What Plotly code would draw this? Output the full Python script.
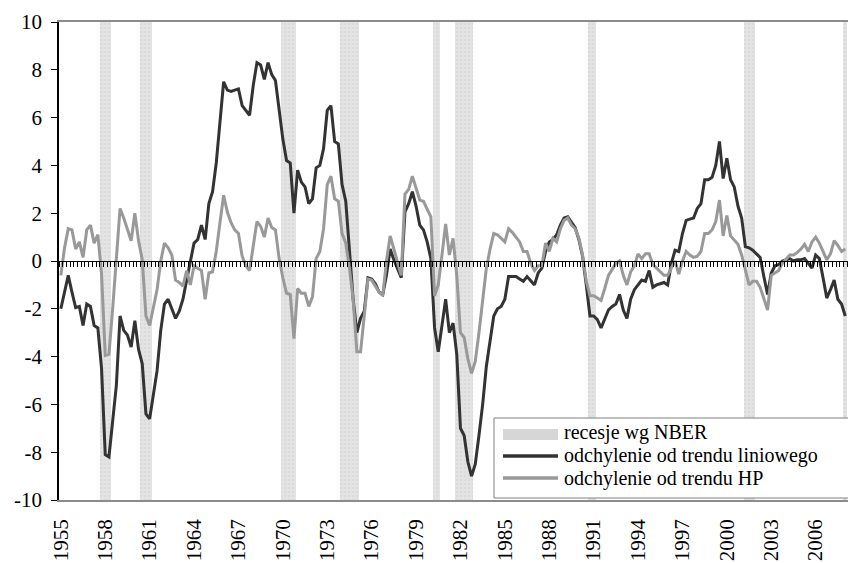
import plotly.graph_objects as go

# ---- data (quarterly, 1955Q1 .. 2008Q1) ----
quarters = [f"{y}Q{q}" for y in range(1955, 2009) for q in (1, 2, 3, 4)][:213]

linear_dev = [
    -2.0, -1.3, -0.6, -1.3, -1.95, -1.9, -2.7, -1.8, -1.9, -2.7,
    -2.8, -4.5, -8.1, -8.2, -6.6, -5.2, -2.3, -2.9, -3.1, -3.6,
    -2.5, -3.7, -4.3, -6.4, -6.6, -5.6, -4.6, -2.9, -1.8, -1.6,
    -2.0, -2.4, -2.1, -1.6, -0.8, 0.0, 0.75, 0.9, 1.5, 0.9,
    2.4, 2.9, 4.1, 5.8, 7.5, 7.15, 7.1, 7.15, 7.2, 6.5,
    6.3, 6.1, 7.35, 8.3, 8.2, 7.6, 8.3, 7.8, 7.55, 6.2,
    5.1, 4.2, 4.1, 2.0, 3.8, 3.3, 3.1, 2.4, 2.6, 3.9,
    4.0, 4.7, 6.3, 6.5, 5.0, 4.9, 3.2, 2.5, 0.6, -1.6,
    -3.0, -2.4, -2.1, -0.7, -0.75, -0.95, -1.3, -1.4, -0.6, 0.5,
    0.05, -0.3, -0.7, 2.05, 2.4, 2.9, 2.3, 1.5, 1.3, 0.8,
    0.1, -2.8, -3.8, -2.7, -1.6, -3.0, -2.6, -3.9, -7.0, -7.3,
    -8.4, -9.0, -8.5, -7.3, -6.0, -4.4, -3.25, -2.3, -2.0, -1.9,
    -1.6, -0.65, -0.65, -0.65, -0.75, -0.85, -0.65, -0.85, -1.0, -0.5,
    -0.3, 0.4, 0.8, 0.9, 1.1, 1.5, 1.8, 1.85, 1.65, 1.4,
    0.9, 0.2, -1.0, -2.3, -2.3, -2.45, -2.8, -2.4, -2.05, -1.9,
    -1.8, -1.4, -2.05, -2.4, -1.6, -1.2, -1.0, -0.8, -0.85, -0.4,
    -1.1, -1.0, -0.95, -0.9, -1.0, -0.1, 0.45, 0.4, 1.15, 1.7,
    1.75, 1.8, 2.2, 2.4, 3.4, 3.4, 3.5, 4.0, 5.0, 3.45,
    4.3, 3.4, 3.1, 2.3, 1.8, 0.6, 0.55, 0.45, 0.3, 0.15,
    -0.65, -1.4, -0.5, -0.2, -0.15, 0.0, 0.05, 0.1, 0.0, 0.05,
    0.05, 0.1, -0.1, -0.3, 0.25, 0.1, -0.7, -1.55, -1.2, -0.8,
    -1.6, -1.8, -2.3,
]

hp_dev = [
    -0.6, 0.55, 1.35, 1.3, 0.5, 0.8, 0.15, 1.3, 1.5, 0.75,
    1.1, -0.55, -3.95, -3.9, -2.0, 0.0, 2.2, 1.8, 1.3, 0.85,
    2.0, 0.85, 0.05, -2.3, -2.7, -1.9, -1.2, 0.0, 0.75, 0.55,
    0.25, -0.8, -0.9, -1.05, -0.4, -1.0, -0.2, -0.3, -0.4, -1.6,
    -0.5, -0.45, 0.4, 1.6, 2.75, 2.05, 1.6, 1.3, 1.15, 0.2,
    -0.2, -0.4, 0.65, 1.65, 1.45, 1.0, 1.8, 1.4, 1.3, 0.1,
    -0.7, -1.35, -1.4, -3.25, -1.15, -1.35, -1.35, -1.9, -1.5, 0.1,
    0.4, 1.35, 3.2, 3.55, 2.6, 2.5, 1.15, 0.75, -0.3, -1.6,
    -3.8, -3.8, -2.3, -0.75, -0.8, -1.05, -1.3, -1.45, 0.0, 1.05,
    0.5, 0.0, -0.6, 2.8, 3.0, 3.55, 3.0, 2.55, 2.5, 2.2,
    1.85, -1.45, -1.0, 0.25, 1.55, 0.25, 0.95, -0.6, -3.0, -3.2,
    -4.1, -4.7, -4.2, -3.0, -1.7, -0.3, 0.5, 1.15, 1.1, 0.95,
    0.8, 1.35, 1.2, 1.0, 0.8, 0.4, 0.4, -0.1, -0.4, -0.2,
    -0.2, 0.75, 0.4, 0.95, 0.8, 1.35, 1.7, 1.8, 1.5, 1.35,
    0.95, 0.25, -0.85, -1.45, -1.45, -1.55, -1.65, -1.15, -0.6, -0.35,
    -0.1, 0.0, -0.6, -1.0, -0.45, -0.2, 0.3, 0.1, 0.3, 0.3,
    -0.15, -0.3, -0.45, -0.6, -0.6, -0.3, 0.0, -0.55, 0.0, 0.4,
    0.25, 0.15, 0.2, 0.4, 1.15, 1.15, 1.3, 1.65, 2.55, 1.05,
    1.9, 1.05, 0.85, 0.7, 0.25, -0.4, -1.0, -0.85, -0.85, -1.1,
    -1.6, -2.05, -0.6, -0.5, -0.4, -0.1, 0.1, 0.25, 0.25, 0.35,
    0.5, 0.7, 0.4, 0.8, 1.0, 0.75, 0.4, 0.05, 0.3, 0.85,
    0.65, 0.4, 0.5,
]

# NBER recessions (first and last quarter shaded)
recessions = [
    ("1957Q4", "1958Q2"), ("1960Q3", "1961Q1"), ("1970Q1", "1970Q4"),
    ("1974Q1", "1975Q1"), ("1980Q2", "1980Q3"), ("1981Q4", "1982Q4"),
    ("1990Q4", "1991Q1"), ("2001Q2", "2001Q4"), ("2008Q1", "2008Q1"),
]

legend_labels = ["recesje wg NBER", "odchylenie od trendu liniowego",
                 "odchylenie od trendu HP"]
tick_years = list(range(1955, 2007, 3))
y_ticks = list(range(-10, 11, 2))

# ---- build ----
idx = {q: i for i, q in enumerate(quarters)}
xs = list(range(len(quarters)))
rec_x = [(idx[a] + idx[b]) / 2 for a, b in recessions]
rec_w = [idx[b] - idx[a] + 1 for a, b in recessions]

FONT = "Liberation Serif"
FS = 21
xr = [-0.5, 212.74]
DARK, GREY, BARC = "#333333", "#999999", "#dcdcdc"

fig = go.Figure()
fig.add_trace(go.Bar(
    x=rec_x, y=[20] * len(rec_x), base=[-10] * len(rec_x), width=rec_w,
    name=legend_labels[0], showlegend=False,
    marker=dict(color=BARC, line_width=0,
                pattern=dict(shape=".", fgcolor="#d2d2d2", bgcolor="#e3e3e3",
                             size=4, solidity=0.3)),
    hoverinfo="skip",
))
fig.add_trace(go.Scatter(
    x=xs, y=linear_dev, mode="lines", name=legend_labels[1], showlegend=False,
    line=dict(color=DARK, width=3),
))
fig.add_trace(go.Scatter(
    x=xs, y=hp_dev, mode="lines", name=legend_labels[2], showlegend=False,
    line=dict(color=GREY, width=3),
))
# carrier for the zero axis with quarterly ticks
fig.add_trace(go.Scatter(
    x=[0], y=[0], xaxis="x2", mode="markers", marker=dict(opacity=0),
    showlegend=False, hoverinfo="skip",
))

# ---- legend box (drawn in paper coordinates) ----
W, H = 789.0, 478.0  # plot area size in px


def px_x(p):
    return (p - 59) / W


def px_y(p):
    return (500 - p) / H


shapes = [
    dict(type="rect", xref="paper", yref="paper",
         x0=px_x(494), x1=px_x(860), y0=px_y(498), y1=px_y(418),
         fillcolor="white", line=dict(color="#808080", width=1), layer="above"),
    dict(type="rect", xref="paper", yref="paper",
         x0=px_x(503), x1=px_x(558), y0=px_y(440), y1=px_y(429),
         fillcolor="#d6d6d6", line=dict(width=0), layer="above"),
    dict(type="line", xref="paper", yref="paper",
         x0=px_x(503), x1=px_x(558), y0=px_y(456), y1=px_y(456),
         line=dict(color=DARK, width=3.5), layer="above"),
    dict(type="line", xref="paper", yref="paper",
         x0=px_x(503), x1=px_x(558), y0=px_y(478), y1=px_y(478),
         line=dict(color=GREY, width=3.5), layer="above"),
]
annotations = [
    dict(xref="paper", yref="paper", x=px_x(563), y=px_y(yy), text=t,
         xanchor="left", yanchor="middle", showarrow=False, borderpad=0,
         font=dict(family=FONT, size=20, color="black"))
    for t, yy in zip(legend_labels, [432.5, 455.5, 478.5])
]

fig.update_layout(
    width=848, height=563, autosize=False,
    margin=dict(l=59, r=0, t=22, b=63, autoexpand=False),
    paper_bgcolor="white", plot_bgcolor="white",
    barmode="overlay", bargap=0,
    font=dict(family=FONT, size=FS, color="black"),
    showlegend=False,
    shapes=shapes, annotations=annotations,
    xaxis=dict(
        range=xr, tickvals=[idx[f"{y}Q1"] for y in tick_years],
        ticktext=[str(y) for y in tick_years], tickangle=-90,
        showline=True, linecolor="#8c8c8c", linewidth=1.5, mirror=True,
        ticks="", showgrid=False, zeroline=False, automargin=False,
        tickfont=dict(family=FONT, size=FS, color="black"),
        ticklabelstandoff=9,
    ),
    xaxis2=dict(
        range=xr, overlaying="x", anchor="free", position=0.5, side="bottom",
        showline=True, linecolor="black", linewidth=1, automargin=False,
        ticks="outside", tick0=-0.5, dtick=1, ticklen=5, tickwidth=1,
        tickcolor="black", showticklabels=False, showgrid=False, zeroline=False,
    ),
    yaxis=dict(
        range=[-10, 10], tickvals=y_ticks,
        ticktext=[str(v) for v in y_ticks],
        showline=True, linecolor="black", linewidth=1.5, automargin=False,
        ticks="outside", ticklen=6, tickcolor="black", tickwidth=1,
        showgrid=False, zeroline=False,
        tickfont=dict(family=FONT, size=FS, color="black"),
        ticklabelstandoff=5,
    ),
)

fig.write_html(
    "out.html",
    config={"displayModeBar": False},
    post_script="document.body.style.margin='0px';"
                "document.body.style.overflow='hidden';",
)
